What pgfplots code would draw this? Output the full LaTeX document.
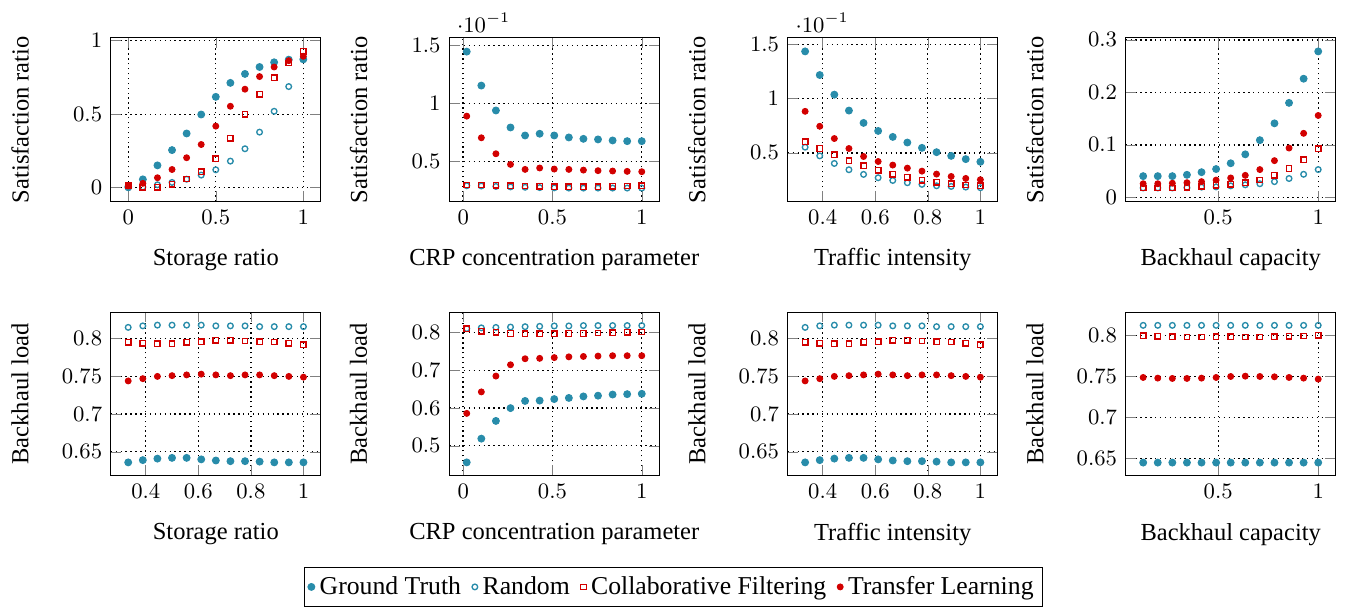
\documentclass[border=0pt]{standalone}
\usepackage{fontspec}
\setmainfont{Liberation Serif}
\usepackage{pgfplots}
\usepackage{pgfplotstable}
\pgfplotsset{compat=1.18}
\definecolor{gtc}{RGB}{40,140,170}
\definecolor{tlc}{RGB}{210,0,0}

% P1 storage ratio / satisfaction
\pgfplotstableread{
x gt rnd cf tl
0 0.005 0.0 0.014 0.012
0.0833 0.057 0.005 0.002 0.03
0.1667 0.152 0.02 0.002 0.068
0.25 0.256 0.036 0.023 0.124
0.3333 0.369 0.058 0.059 0.204
0.4167 0.498 0.086 0.109 0.294
0.5 0.618 0.122 0.197 0.419
0.5833 0.713 0.181 0.337 0.554
0.6667 0.774 0.265 0.5 0.670
0.75 0.821 0.378 0.636 0.756
0.8333 0.853 0.52 0.749 0.821
0.9167 0.871 0.688 0.848 0.864
1 0.873 0.878 0.928 0.894
}\tA
% P2 CRP / satisfaction
\pgfplotstableread{
x gt rnd cf tl
0.02 0.1448 0.029 0.0296 0.0891
0.1017 0.1155 0.0288 0.0296 0.0704
0.1833 0.094 0.0284 0.0293 0.0566
0.265 0.0793 0.028 0.029 0.0474
0.3467 0.0724 0.0277 0.0287 0.0431
0.4283 0.0739 0.0274 0.0284 0.0443
0.51 0.0724 0.0272 0.0282 0.0434
0.5917 0.0707 0.027 0.0282 0.0431
0.6733 0.0695 0.027 0.0282 0.0425
0.755 0.069 0.027 0.0282 0.042
0.8367 0.0681 0.027 0.0284 0.0417
0.9183 0.0675 0.027 0.0287 0.0414
1 0.0675 0.027 0.029 0.0411
}\tB
% P3 traffic / satisfaction
\pgfplotstableread{
x gt rnd cf tl
0.3333 0.1436 0.0552 0.0604 0.0883
0.3889 0.1218 0.0472 0.054 0.0745
0.4444 0.1037 0.0402 0.0482 0.0632
0.5 0.089 0.0344 0.0429 0.054
0.5556 0.0776 0.0301 0.038 0.0466
0.6111 0.0702 0.027 0.034 0.042
0.6667 0.0647 0.0245 0.0301 0.0387
0.7222 0.0595 0.0224 0.0273 0.0359
0.7778 0.0546 0.0209 0.0248 0.0331
0.8333 0.0506 0.0196 0.0227 0.0304
0.8889 0.0472 0.019 0.0215 0.0282
0.9444 0.0442 0.0184 0.0202 0.0264
1 0.0417 0.0178 0.0196 0.0252
}\tC
% P4 backhaul capacity / satisfaction
\pgfplotstableread{
x gt rnd cf tl
0.125 0.0405 0.018 0.018 0.026
0.1979 0.0405 0.018 0.018 0.026
0.2708 0.0405 0.018 0.018 0.027
0.3438 0.043 0.0185 0.019 0.028
0.4167 0.048 0.0196 0.021 0.030
0.4896 0.054 0.020 0.023 0.033
0.5625 0.065 0.022 0.025 0.037
0.6354 0.082 0.024 0.028 0.042
0.7083 0.109 0.026 0.033 0.053
0.7813 0.141 0.030 0.042 0.070
0.8542 0.180 0.036 0.055 0.094
0.9271 0.226 0.044 0.072 0.122
1 0.278 0.053 0.093 0.156
}\tD
% P5 / P7 backhaul load
\pgfplotstableread{
x gt rnd cf tl
0.3333 0.636 0.815 0.795 0.744
0.3889 0.639 0.817 0.794 0.747
0.4444 0.641 0.818 0.7935 0.750
0.5 0.642 0.818 0.7935 0.751
0.5556 0.642 0.818 0.795 0.752
0.6111 0.640 0.818 0.796 0.753
0.6667 0.6385 0.817 0.798 0.752
0.7222 0.6376 0.817 0.798 0.751
0.7778 0.6376 0.817 0.797 0.752
0.8333 0.637 0.816 0.796 0.752
0.8889 0.636 0.816 0.7955 0.751
0.9444 0.636 0.816 0.794 0.750
1 0.636 0.816 0.792 0.749
}\tE
% P6 CRP / backhaul load
\pgfplotstableread{
x gt rnd cf tl
0.02 0.456 0.811 0.811 0.586
0.1017 0.519 0.813 0.804 0.643
0.1833 0.566 0.814 0.801 0.685
0.265 0.600 0.815 0.798 0.715
0.3467 0.619 0.816 0.797 0.731
0.4283 0.620 0.817 0.797 0.732
0.51 0.624 0.818 0.797 0.734
0.5917 0.627 0.818 0.798 0.736
0.6733 0.631 0.819 0.798 0.737
0.755 0.633 0.819 0.799 0.738
0.8367 0.636 0.819 0.800 0.739
0.9183 0.637 0.819 0.801 0.739
1 0.638 0.819 0.802 0.739
}\tF
% P8 backhaul capacity / backhaul load
\pgfplotstableread{
x gt rnd cf tl
0.125 0.6447 0.8122 0.7995 0.7486
0.1979 0.6447 0.8122 0.7987 0.7478
0.2708 0.6447 0.8122 0.7983 0.7474
0.3438 0.6447 0.8122 0.7979 0.7474
0.4167 0.6447 0.8122 0.7979 0.7478
0.4896 0.6447 0.8122 0.7983 0.7486
0.5625 0.6447 0.8122 0.7983 0.7498
0.6354 0.6447 0.8122 0.7979 0.7502
0.7083 0.6447 0.8122 0.7979 0.7498
0.7813 0.6447 0.8122 0.7983 0.7494
0.8542 0.6447 0.8122 0.7987 0.7486
0.9271 0.6447 0.8122 0.7991 0.7478
1 0.6447 0.8122 0.8 0.7466
}\tH

\pgfplotsset{
  common/.style={
    width=85.7pt, height=66.9pt, scale only axis,
    anchor=south west,
    grid=major, grid style={black, line width=0.55pt, dash pattern=on 0.55pt off 1.45pt},
    tick label style={font=\fontsize{9}{10}\selectfont},
    label style={font=\fontsize{10}{12}\selectfont},
    every axis x label/.style={at={(axis description cs:0.5,-0.355)},anchor=center},
    every axis y label/.style={at={(axis description cs:-0.432,0.5)},rotate=90,anchor=center},
    legend image code/.code={\draw[#1] plot coordinates {(0.06cm,0cm)};},
  },
  sgt/.style={only marks, mark=*, mark size=1.4pt, color=gtc},
  srnd/.style={only marks, mark=o, mark size=1.15pt, color=gtc, mark options={line width=0.55pt}},
  scf/.style={only marks, mark=square, mark size=1.1pt, color=tlc, mark options={line width=0.55pt}},
  stl/.style={only marks, mark=*, mark size=1.2pt, color=tlc},
}
\newcommand{\four}[1]{%
  \addplot[sgt] table[x=x,y=gt] {#1};
  \addplot[srnd] table[x=x,y=rnd] {#1};
  \addplot[scf] table[x=x,y=cf] {#1};
  \addplot[stl] table[x=x,y=tl] {#1};
}

\begin{document}
\begin{tikzpicture}
\useasboundingbox (0,0) rectangle (549.2pt,-248.9pt);

% Row 1
\begin{axis}[common, at={(45.2pt,-82.3pt)},
  xmin=-0.1, xmax=1.1, ymin=-0.095, ymax=1.02,
  xtick={0,0.5,1}, ytick={0,0.5,1},
  xlabel={Storage ratio}, ylabel={Satisfaction ratio}]
\four{\tA}
\end{axis}

\begin{axis}[common, at={(183.3pt,-82.3pt)},
  xmin=-0.078, xmax=1.098, ymin=0.0152, ymax=0.1568,
  xtick={0,0.5,1}, ytick={0.05,0.1,0.15},
  scaled y ticks=base 10:1,
  xlabel={CRP concentration parameter}, ylabel={Satisfaction ratio}]
\four{\tB}
\end{axis}

\begin{axis}[common, at={(321.4pt,-82.3pt)},
  xmin=0.267, xmax=1.066, ymin=0.0049, ymax=0.1562,
  xtick={0.4,0.6,0.8,1}, ytick={0.05,0.1,0.15},
  scaled y ticks=base 10:1,
  xlabel={Traffic intensity}, ylabel={Satisfaction ratio}]
\four{\tC}
\end{axis}

\begin{axis}[common, at={(459.3pt,-82.3pt)},
  xmin=0.0375, xmax=1.0875, ymin=-0.0082, ymax=0.304,
  xtick={0.5,1}, ytick={0,0.1,0.2,0.3},
  xlabel={Backhaul capacity}, ylabel={Satisfaction ratio}]
\four{\tD}
\end{axis}

% Row 2
\begin{axis}[common, at={(45.2pt,-194.2pt)},
  xmin=0.267, xmax=1.066, ymin=0.618, ymax=0.8354,
  xtick={0.4,0.6,0.8,1}, ytick={0.65,0.7,0.75,0.8},
  xlabel={Storage ratio}, ylabel={Backhaul load},
  legend columns=4,
  legend style={at={(axis description cs:2.678,-0.555)}, anchor=north,
    font=\fontsize{10.5}{12}\selectfont, draw=black, inner sep=1.5pt,
    /tikz/every even column/.append style={column sep=2.5pt}}]
\four{\tE}
\legend{Ground Truth,Random,Collaborative Filtering,Transfer Learning}
\end{axis}

\begin{axis}[common, at={(183.3pt,-194.2pt)},
  xmin=-0.078, xmax=1.098, ymin=0.42, ymax=0.855,
  xtick={0,0.5,1}, ytick={0.5,0.6,0.7,0.8},
  xlabel={CRP concentration parameter}, ylabel={Backhaul load}]
\four{\tF}
\end{axis}

\begin{axis}[common, at={(321.4pt,-194.2pt)},
  xmin=0.267, xmax=1.066, ymin=0.618, ymax=0.8354,
  xtick={0.4,0.6,0.8,1}, ytick={0.65,0.7,0.75,0.8},
  xlabel={Traffic intensity}, ylabel={Backhaul load}]
\four{\tE}
\end{axis}

\begin{axis}[common, at={(459.3pt,-194.2pt)},
  xmin=0.0375, xmax=1.0875, ymin=0.6284, ymax=0.8285,
  xtick={0.5,1}, ytick={0.65,0.7,0.75,0.8},
  xlabel={Backhaul capacity}, ylabel={Backhaul load}]
\four{\tH}
\end{axis}
\end{tikzpicture}
\end{document}
